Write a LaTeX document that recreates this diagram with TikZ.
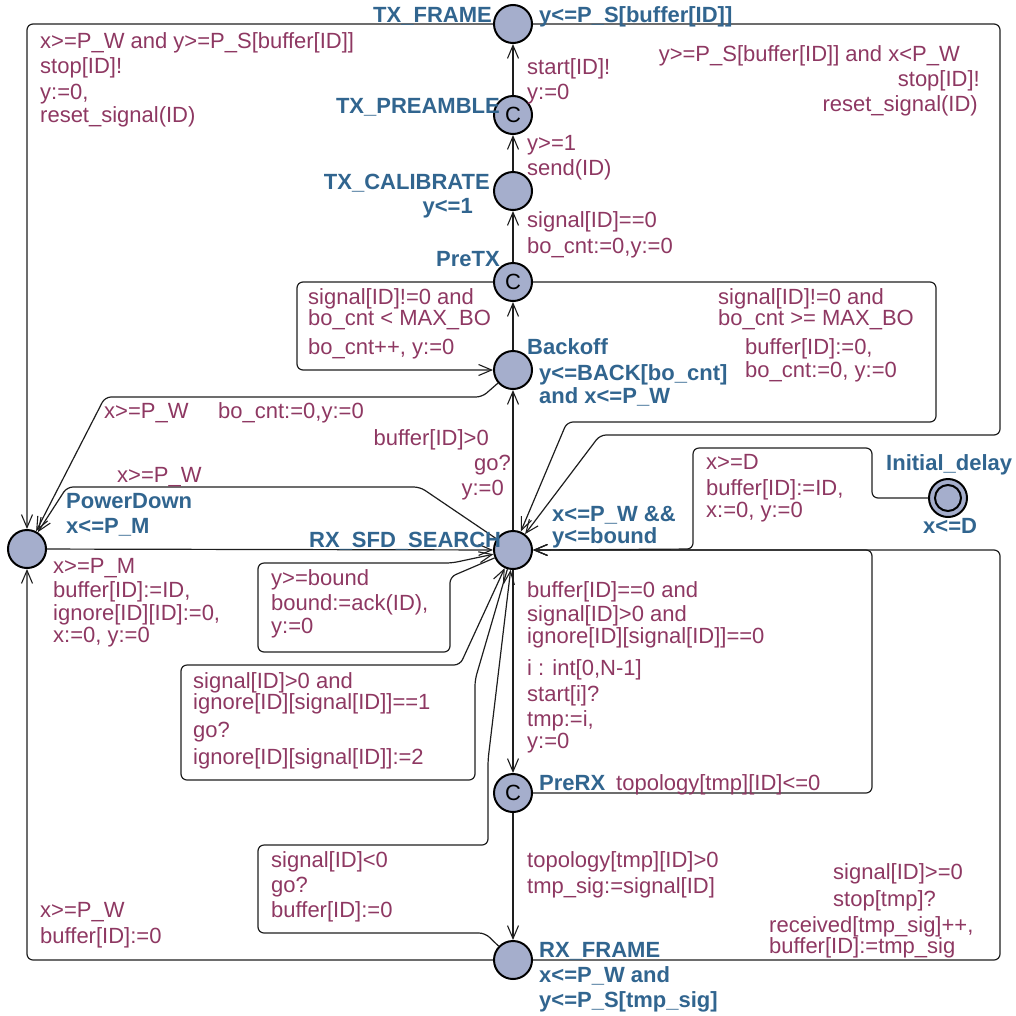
\documentclass[tikz,border=0pt]{standalone}
\usepackage{fontspec}
\setmainfont{Liberation Sans}
\usetikzlibrary{arrows.meta}
\definecolor{lblc}{RGB}{142,56,98}
\definecolor{nmc}{RGB}{49,101,143}
\definecolor{locfill}{RGB}{165,174,204}
\definecolor{edgec}{RGB}{30,30,30}
\tikzset{
  loc/.style={circle, draw=black, line width=2pt, fill=locfill, minimum size=38pt, inner sep=0pt, font=\fontsize{22}{26}\selectfont},
  inloc/.style={circle, draw=black, line width=2pt, minimum size=26pt, inner sep=0pt},
  edge/.style={draw=edgec, line width=1.2pt, rounded corners=6pt, -{Straight Barb[length=13pt,width=11pt,line width=1.1pt]}},
  lbl/.style={font=\fontsize{22}{26}\selectfont, text=lblc, inner sep=0pt, anchor=base west},
  lblr/.style={lbl, anchor=base east},
  nm/.style={font=\bfseries\fontsize{22}{26}\selectfont, text=nmc, inner sep=0pt, anchor=base west},
  nmr/.style={nm, anchor=base east}
}
\begin{document}
\begin{tikzpicture}[x=1pt,y=-1pt]
\useasboundingbox (0,0) rectangle (1016,1015);
% locations
\node[loc] (TXF) at (513,24) {};
\node[loc] (TXP) at (513,115) {C};
\node[loc] (TXC) at (513,191) {};
\node[loc] (PTX) at (513,282) {C};
\node[loc] (BO) at (513,370) {};
\node[loc] (RX) at (513,550) {};
\node[loc] (PD) at (27,549) {};
\node[loc] (INIT) at (948,498) {};
\node[inloc] (INITin) at (INIT.center) {};
\node[loc] (PRX) at (513,793) {C};
\node[loc] (RXF) at (513,960) {};
% edges
\draw[edge] (TXF.west) -- (27,24) -- (PD.north);
\draw[edge] (TXF.east) -- (1000,24) -- (1000,435) -- (600,435) -- (RX);
\draw[edge] (TXP) -- (TXF);
\draw[edge] (TXC) -- (TXP);
\draw[edge] (PTX) -- (TXC);
\draw[edge] (PTX.west) -- (297,282) -- (297,370) -- (BO.west);
\draw[edge] (PTX.east) -- (936,282) -- (936,422) -- (567,422) -- (RX);
\draw[edge] (BO) -- (PTX);
\draw[edge] (RX) -- (BO);
\draw[edge] (BO) -- (482,397) -- (105,397) -- (PD);
\draw[edge] (RX) -- (420,487) -- (67,487) -- (PD);
\draw[edge] (PD) -- (RX);
\draw[edge] (RX) -- (450,577) -- (450,652) -- (258,652) -- (258,563) -- (452,563) -- (RX);
\draw[edge] (RX) -- (475,680) -- (475,780) -- (181,780) -- (181,665) -- (460,665) -- (RX);
\draw[edge] (RXF) -- (485,933) -- (258,933) -- (258,845) -- (488,845) -- (488,760) -- (RX);
\draw[edge] (RXF.west) -- (27,960) -- (PD.south);
\draw[edge] (RX) -- (PRX);
\draw[edge] (PRX.east) -- (872,793) -- (872,550) -- (RX.east);
\draw[edge] (PRX) -- (RXF);
\draw[edge] (RXF.east) -- (1000,960) -- (1000,550) -- (RX.east);
\draw[edge] (INIT.west) -- (872,498) -- (872,448) -- (693,448) -- (693,549) -- (RX.east);
% location names and invariants
\node[nmr] (n1) at (492,22) {TX\_FRAME};
\node[nm] (n2) at (539,22) {y<=P\_S[buffer[ID]]};
\node[nmr] (n3) at (500,113) {TX\_PREAMBLE};
\node[nmr] (n4) at (490,189) {TX\_CALIBRATE};
\node[nmr] (n5) at (473,213) {y<=1};
\node[nmr] (n6) at (500,266) {PreTX};
\node[nm] (n7) at (527,354) {Backoff};
\node[nm] (n8) at (539,380) {y<=BACK[bo\_cnt]};
\node[nm] (n9) at (539,403) {and x<=P\_W};
\node[nm] (n10) at (66,508) {PowerDown};
\node[nm] (n11) at (66,533) {x<=P\_M};
\node[nm] (n12) at (309,547) {RX\_SFD\_SEARCH};
\node[nm] (n13) at (552,521) {x<=P\_W \&\&};
\node[nm] (n14) at (552,543) {y<=bound};
\node[nm] (n15) at (886,470) {Initial\_delay};
\node[nm] (n16) at (923,533) {x<=D};
\node[nm] (n17) at (539,790) {PreRX};
\node[nm] (n18) at (539,957) {RX\_FRAME};
\node[nm] (n19) at (539,982) {x<=P\_W and};
\node[nm] (n20) at (539,1007) {y<=P\_S[tmp\_sig]};
% edge labels
\node[lbl] (l1) at (40,48) {x>=P\_W and y>=P\_S[buffer[ID]]};
\node[lbl] (l2) at (40,73) {stop[ID]!};
\node[lbl] (l3) at (40,99) {y:=0,};
\node[lbl] (l4) at (40,122) {reset\_signal(ID)};
\node[lbl] (l5) at (527,74) {start[ID]!};
\node[lbl] (l6) at (527,99) {y:=0};
\node[lbl] (l7) at (527,150) {y>=1};
\node[lbl] (l8) at (527,175) {send(ID)};
\node[lbl] (l9) at (527,227) {signal[ID]==0};
\node[lbl] (l10) at (527,253) {bo\_cnt:=0,y:=0};
\node[lblr] (l11) at (960,61) {y>=P\_S[buffer[ID]] and x<P\_W};
\node[lblr] (l12) at (980,86) {stop[ID]!};
\node[lblr] (l13) at (978,111) {reset\_signal(ID)};
\node[lbl] (l14) at (308,304) {signal[ID]!=0 and};
\node[lbl] (l15) at (308,325) {bo\_cnt < MAX\_BO};
\node[lbl] (l16) at (308,354) {bo\_cnt++, y:=0};
\node[lbl] (l17) at (718,304) {signal[ID]!=0 and};
\node[lbl] (l18) at (718,325) {bo\_cnt >= MAX\_BO};
\node[lbl] (l19) at (745,354) {buffer[ID]:=0,};
\node[lbl] (l20) at (745,377) {bo\_cnt:=0, y:=0};
\node[lbl] (l21) at (104,418) {x>=P\_W};
\node[lbl] (l22) at (218,418) {bo\_cnt:=0,y:=0};
\node[lblr] (l23) at (489,445) {buffer[ID]>0};
\node[lblr] (l24) at (511,470) {go?};
\node[lblr] (l25) at (504,495) {y:=0};
\node[lbl] (l26) at (117,482) {x>=P\_W};
\node[lbl] (l27) at (706,469) {x>=D};
\node[lbl] (l28) at (706,495) {buffer[ID]:=ID,};
\node[lbl] (l29) at (706,517) {x:=0, y:=0};
\node[lbl] (l30) at (53,573) {x>=P\_M};
\node[lbl] (l31) at (53,597) {buffer[ID]:=ID,};
\node[lbl] (l32) at (53,620) {ignore[ID][ID]:=0,};
\node[lbl] (l33) at (53,642) {x:=0, y:=0};
\node[lbl] (l34) at (271,585) {y>=bound};
\node[lbl] (l35) at (271,610) {bound:=ack(ID),};
\node[lbl] (l36) at (271,633) {y:=0};
\node[lbl] (l37) at (527,597) {buffer[ID]==0 and};
\node[lbl] (l38) at (527,621) {signal[ID]>0 and};
\node[lbl] (l39) at (527,643) {ignore[ID][signal[ID]]==0};
\node[lbl] (l40) at (527,675) {i : int[0,N-1]};
\node[lbl] (l41) at (527,701) {start[i]?};
\node[lbl] (l42) at (527,726) {tmp:=i,};
\node[lbl] (l43) at (527,748) {y:=0};
\node[lbl] (l44) at (193,688) {signal[ID]>0 and};
\node[lbl] (l45) at (193,709) {ignore[ID][signal[ID]]==1};
\node[lbl] (l46) at (193,737) {go?};
\node[lbl] (l47) at (193,764) {ignore[ID][signal[ID]]:=2};
\node[lbl] (l48) at (616,790) {topology[tmp][ID]<=0};
\node[lbl] (l49) at (527,867) {topology[tmp][ID]>0};
\node[lbl] (l50) at (527,893) {tmp\_sig:=signal[ID]};
\node[lbl] (l51) at (833,879) {signal[ID]>=0};
\node[lbl] (l52) at (833,906) {stop[tmp]?};
\node[lbl] (l53) at (769,932) {received[tmp\_sig]++,};
\node[lbl] (l54) at (769,953) {buffer[ID]:=tmp\_sig};
\node[lbl] (l55) at (271,867) {signal[ID]<0};
\node[lbl] (l56) at (271,892) {go?};
\node[lbl] (l57) at (271,917) {buffer[ID]:=0};
\node[lbl] (l58) at (40,917) {x>=P\_W};
\node[lbl] (l59) at (40,943) {buffer[ID]:=0};
\end{tikzpicture}
\end{document}
